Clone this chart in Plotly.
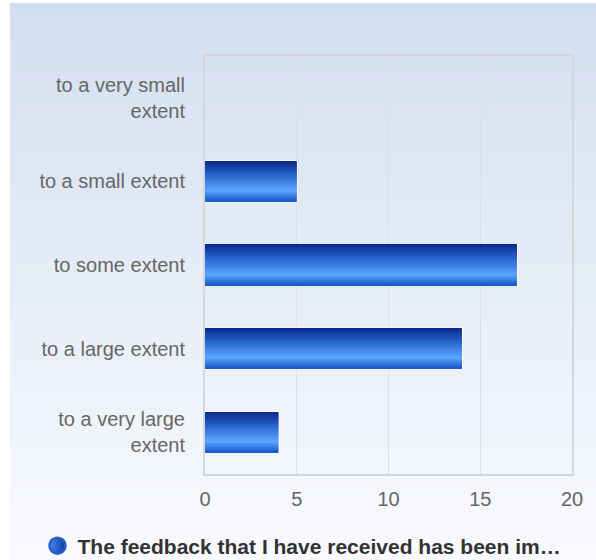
import plotly.graph_objects as go

# Survey answers (top to bottom) and the number of responses for each
categories = [
    "to a very small<br>extent",
    "to a small extent",
    "to some extent",
    "to a large extent",
    "to a very large<br>extent",
]
counts = [0, 5, 17, 14, 4]
series_name = "The feedback that I have received has been im…"
x_ticks = [0, 5, 10, 15, 20]

W, H = 596, 560
M_L, M_R, M_T, M_B = 205, 24, 56, 86
BAR_W = 0.48
FONT = "Liberation Sans, Arial, sans-serif"


def mix(c1, c2, t):
    return tuple(round(a + (b - a) * t) for a, b in zip(c1, c2))


def rgb(c):
    return "rgb(%d,%d,%d)" % c


# colour stops across the thickness of a bar (0 = top edge, 1 = bottom edge)
bar_stops = [(0.0, (8, 40, 138)), (0.35, (40, 100, 205)),
             (0.74, (92, 166, 255)), (1.0, (22, 88, 200))]


def bar_color(t):
    for (t0, c0), (t1, c1) in zip(bar_stops, bar_stops[1:]):
        if t <= t1:
            return rgb(mix(c0, c1, (t - t0) / (t1 - t0)))
    return rgb(bar_stops[-1][1])


fig = go.Figure()

# white rim behind each bar
fig.add_trace(go.Bar(
    x=counts, y=categories, orientation="h", width=BAR_W,
    marker=dict(color="white",
                line=dict(color="white", width=[0 if v == 0 else 2 for v in counts])),
    showlegend=False, hoverinfo="skip",
))

# the bars themselves, built from thin horizontal strips to give the shading
N = 40
step = BAR_W / N
for i in range(N):
    t = (i + 0.5) / N
    fig.add_trace(go.Bar(
        x=counts, y=categories, orientation="h",
        width=step * 1.15, offset=-BAR_W / 2 + i * step,
        marker=dict(color=bar_color(t), line=dict(width=0)),
        showlegend=False, hoverinfo="x+y" if i == N // 2 else "skip",
    ))

# legend entry for the series
fig.add_trace(go.Scatter(
    x=[None], y=[None], mode="markers", name=series_name,
    marker=dict(symbol="circle", size=16, color="rgb(66,136,240)",
                gradient=dict(type="horizontal", color="rgb(22,58,160)"),
                line=dict(width=2.5, color="rgb(40,96,200)")),
))

# vertical background gradient, in paper units of the plot area
pw, ph = W - M_L - M_R, H - M_T - M_B


def px_x(px):
    return (px - M_L) / pw


def px_y(py):
    return (H - M_B - py) / ph


top_c, bot_c = (211, 223, 240), (249, 250, 253)
shapes = []
S = 90
y0p, y1p = 3, H
for k in range(S):
    a = y0p + (y1p - y0p) * k / S
    b = y0p + (y1p - y0p) * (k + 1) / S + 0.6
    shapes.append(dict(
        type="rect", xref="paper", yref="paper", layer="below",
        x0=px_x(10), x1=px_x(W + 2), y0=px_y(b), y1=px_y(a),
        fillcolor=rgb(mix(top_c, bot_c, k / (S - 1))), line=dict(width=0),
    ))

fig.update_layout(
    width=W, height=H,
    margin=dict(l=M_L, r=M_R, t=M_T, b=M_B, autoexpand=False),
    paper_bgcolor="white", plot_bgcolor="rgba(0,0,0,0)",
    barmode="overlay", bargap=0.52,
    font=dict(family=FONT, size=20, color="#666666"),
    shapes=shapes,
    showlegend=True,
    legend=dict(orientation="h", x=px_x(302), xanchor="center",
                y=px_y(546), yanchor="middle",
                font=dict(family=FONT, size=21, color="#333333", weight="bold"),
                bgcolor="rgba(0,0,0,0)", itemsizing="trace", itemwidth=30),
    xaxis=dict(range=[0, 20], tickvals=x_ticks, showgrid=True,
               gridcolor="#dbe0e8", gridwidth=1, zeroline=False,
               showline=True, mirror=True, linecolor="#d3d6dc", linewidth=2,
               ticks="", ticklabelstandoff=6, fixedrange=True),
    yaxis=dict(categoryorder="array", categoryarray=categories,
               autorange="reversed", showgrid=False, zeroline=False,
               showline=True, mirror=True, linecolor="#d3d6dc", linewidth=2,
               ticks="", ticklabelstandoff=14, fixedrange=True),
)

fig.write_html("out.html")
